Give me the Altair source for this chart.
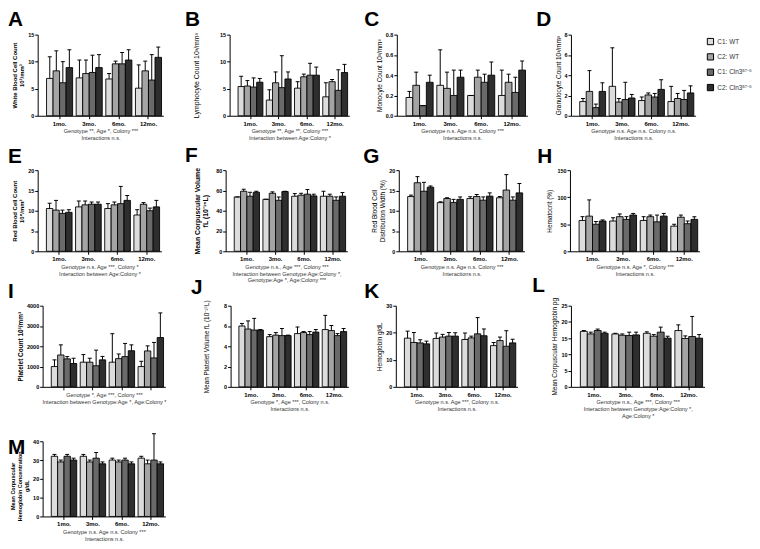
import altair as alt
import pandas as pd

MONTHS = ["1mo.", "3mo.", "6mo.", "12mo."]
GROUPS = ["C1: WT", "C2: WT", "C1: Cln3ᵟ⁷⁻⁸", "C2: Cln3ᵟ⁷⁻⁸"]
COLORS = ["#dcdcdc", "#a4a4a4", "#6a6a6a", "#2e2e2e"]

# means and upper ends of error bars, rows = months, columns = groups
A_mean = [[6.9, 8.3, 6.1, 8.9], [7.0, 7.8, 8.0, 8.9], [6.8, 9.6, 9.6, 10.3], [5.1, 8.3, 6.6, 10.8]]
A_hi = [[10.9, 12.0, 10.0, 12.2], [10.3, 10.3, 11.2, 11.3], [7.8, 10.1, 11.7, 12.2], [9.4, 10.1, 11.3, 12.7]]
B_mean = [[5.4, 5.5, 5.3, 6.2], [2.9, 6.1, 5.2, 6.8], [5.1, 7.2, 7.5, 7.5], [3.5, 6.3, 4.7, 8.0]]
B_hi = [[7.3, 6.5, 7.0, 6.9], [4.8, 8.1, 11.1, 8.1], [6.3, 7.7, 9.7, 9.0], [6.1, 6.7, 8.5, 9.5]]
C_mean = [[0.18, 0.30, 0.10, 0.33], [0.30, 0.27, 0.20, 0.38], [0.20, 0.38, 0.33, 0.40], [0.20, 0.33, 0.23, 0.45]]
C_hi = [[0.24, 0.43, 0.10, 0.40], [0.65, 0.43, 0.45, 0.45], [0.20, 0.45, 0.41, 0.53], [0.45, 0.41, 0.38, 0.54]]
D_mean = [[1.4, 2.4, 0.8, 2.4], [2.9, 1.35, 1.6, 1.75], [1.5, 2.05, 1.85, 2.6], [1.4, 1.7, 1.6, 2.25]]
D_hi = [[1.7, 4.45, 1.15, 3.25], [6.7, 1.7, 3.3, 2.1], [1.85, 2.25, 2.2, 3.55], [2.9, 2.2, 2.5, 2.95]]
E_mean = [[10.55, 10.15, 9.35, 9.6], [10.95, 11.45, 11.6, 11.6], [10.55, 11.45, 11.75, 12.55], [8.95, 11.6, 10.0, 10.95]]
E_hi = [[11.85, 12.55, 10.15, 10.25], [12.4, 12.4, 12.15, 12.15], [11.75, 12.15, 16.0, 13.75], [10.25, 12.0, 10.65, 12.55]]
F_mean = [[53.6, 59.2, 54.3, 58.2], [51.3, 57.2, 50.3, 58.9], [54.3, 55.3, 56.3, 54.6], [54.3, 54.3, 50.3, 54.3]]
F_hi = [[53.6, 61.2, 58.2, 59.2], [51.3, 58.6, 53.6, 59.2], [56.9, 57.2, 60.9, 56.3], [59.2, 56.3, 53.6, 57.9]]
G_mean = [[13.5, 16.9, 14.8, 15.8], [12.0, 13.0, 12.05, 12.8], [13.0, 13.5, 12.6, 13.6], [13.2, 15.1, 12.6, 14.4]]
G_hi = [[13.85, 18.4, 17.0, 16.1], [12.2, 13.2, 12.8, 13.4], [13.45, 14.0, 13.4, 14.4], [13.5, 18.9, 13.4, 16.7]]
H_mean = [[57, 65, 50, 56], [56, 64, 59, 67], [57, 64, 54.5, 65], [46.5, 63, 51, 59]]
H_hi = [[64, 95, 55, 58], [62, 69, 64, 70], [64, 67, 67, 70], [50, 67, 56, 64]]
I_mean = [[1000, 1570, 1380, 1150], [1215, 1215, 1040, 1330], [1215, 1390, 1490, 1780], [1000, 1770, 1425, 2430]]
I_hi = [[1330, 2070, 1490, 1410], [1590, 1410, 1810, 1500], [2620, 1620, 2140, 2070], [1260, 2020, 2190, 3645]]
J_mean = [[6.0, 5.7, 5.6, 5.6], [4.95, 5.1, 5.05, 5.05], [5.25, 5.35, 5.15, 5.4], [5.65, 5.55, 5.05, 5.45]]
J_hi = [[6.25, 6.5, 6.75, 5.65], [5.15, 5.35, 5.75, 5.1], [5.9, 5.45, 5.45, 5.65], [7.05, 6.05, 5.25, 5.75]]
K_mean = [[18.0, 16.4, 16.25, 15.9], [17.9, 18.4, 18.75, 18.75], [17.5, 18.1, 19.6, 18.9], [15.25, 17.1, 15.0, 16.25]]
K_hi = [[20.6, 20.1, 17.4, 16.9], [19.9, 19.4, 20.1, 20.0], [19.9, 18.75, 25.6, 21.4], [16.4, 18.4, 20.75, 17.6]]
L_mean = [[17.1, 16.3, 17.35, 16.5], [16.3, 15.9, 15.8, 16.0], [16.5, 15.6, 16.85, 15.0], [17.35, 14.9, 15.5, 15.0]]
L_hi = [[17.35, 16.85, 17.8, 16.85], [16.5, 16.3, 16.85, 16.85], [16.95, 16.1, 18.4, 15.6], [19.1, 15.7, 21.7, 16.1]]
M_mean = [[32, 29, 32, 30], [32, 29, 31, 28], [30, 29, 30, 28], [31, 28, 30, 28]]
M_hi = [[33, 30, 33, 31], [33, 30, 34, 29], [31, 30, 31, 29], [32, 30, 44, 29]]

Y_TITLES = {
    "A": ["White Blood Cell  Count", "10³/mm³"],
    "B": "Lymphocyte Count 10³/mm³",
    "C": "Monocyte Count 10³/mm³",
    "D": "Granulocyte Count 10³/mm³",
    "E": ["Red Blood Cell  Count", "10⁶/mm³"],
    "F": ["Mean Corpuscular Volume", "fL (10⁻¹⁵L)"],
    "G": ["Red Blood Cell", "Distribution Width (%)"],
    "H": "Hematocrit (%)",
    "I": "Platelet Count 10³/mm³",
    "J": "Mean Platelet Volume fL (10⁻¹⁵L)",
    "K": "Hemoglobin g/dL",
    "L": "Mean Corpuscular Hemoglobin pg",
    "M": ["Mean Corpuscular", "Hemoglobin Concentration", "g/dL"],
}
STATS = {
    "A": ["Genotype **,  Age *, Colony ***", "Interactions n.s."],
    "B": ["Genotype **,  Age **, Colony ***", "Interaction between Age:Colony *"],
    "C": ["Genotype n.s.  Age n.s. Colony ***", "Interactions n.s."],
    "D": ["Genotype n.s.  Age n.s. Colony n.s.", "Interactions n.s."],
    "E": ["Genotype n.s.  Age ***, Colony *", "Interaction between Age:Colony *"],
    "F": ["Genotype n.s.,  Age ***, Colony ***", "Interaction between Genotype:Age:Colony *,", "Genotype:Age *, Age:Colony ***"],
    "G": ["Genotype n.s.  Age n.s. Colony ***", "Interactions n.s."],
    "H": ["Genotype n.s.  Age *, Colony ***", "Interactions n.s."],
    "I": ["Genotype *,  Age ***, Colony ***", "Interaction between Genotype:Age *, Age:Colony *"],
    "J": ["Genotype *,  Age ***, Colony n.s.", "Interactions n.s."],
    "K": ["Genotype n.s.  Age ***, Colony n.s.", "Interactions n.s."],
    "L": ["Genotype n.s.,  Age ***, Colony ***", "Interaction between Genotype:Age:Colony *,", "Age:Colony *"],
    "M": ["Genotype n.s.  Age n.s. Colony ***", "Interactions n.s."],
}

# letter, mean, hi, ymax, step, format, bold title, title size, title padding, x labels,
# shift, width, height, letter dx, letter offset
PANELS = [
    ("A", A_mean, A_hi, 15, 5, "d", True, 6, 3, True, 0, 127, 82, -30, -14),
    ("B", B_mean, B_hi, 15, 5, "d", False, 7, 20, True, 15, 121, 82, -30, -14),
    ("C", C_mean, C_hi, 0.8, 0.2, ".1f", False, 6.5, 3, True, 5, 132, 82, -28, -14),
    ("D", D_mean, D_hi, 8, 2, "d", False, 6.5, 3, True, 2, 126, 82, -33, -14),
    ("E", E_mean, E_hi, 20, 5, "d", True, 6, 3, True, 0, 125, 82, -30, -16),
    ("F", F_mean, F_hi, 80, 20, "d", True, 7, 7, True, 11, 123, 82, -30, -16),
    ("G", G_mean, G_hi, 20, 5, "d", False, 6.5, 3, True, 7, 127, 82, -29, -16),
    ("H", H_mean, H_hi, 150, 50, "d", False, 6.5, 4, True, 1, 131, 82, -32, -16),
    ("I", I_mean, I_hi, 4000, 1000, "d", True, 6.5, 3, False, 5, 124, 82, -30, -15),
    ("J", J_mean, J_hi, 8, 2, "d", False, 6.5, 14, True, 16, 119, 82, -24, -15),
    ("K", K_mean, K_hi, 30, 10, "d", False, 6.5, 3, True, 4, 123, 82, -28, -15),
    ("L", L_mean, L_hi, 25, 5, "d", False, 6.5, 3, True, 2, 135, 82, -37, -15),
    ("M", M_mean, M_hi, 40, 10, "d", True, 5.5, 3, True, 5, 124, 76, -30, -42),
]

LEGEND = alt.Legend(
    title=None, orient="none", legendX=676, legendY=3,
    symbolType="square", symbolSize=40, symbolStrokeColor="black", symbolStrokeWidth=1,
    labelFontSize=6.5, labelColor="#333333", rowPadding=3.5, labelOffset=3,
)


def make_df(mean, hi):
    rows = []
    for i, m in enumerate(MONTHS):
        for j, g in enumerate(GROUPS):
            rows.append({"month": m, "group": g, "mean": mean[i][j], "hi": hi[i][j]})
    return pd.DataFrame(rows)


def panel(letter, mean, hi, ymax, step, fmt, bold, tsize, tpad, xlabels, shift, width, height, ldx, loff):
    df = make_df(mean, hi)
    n = int(round(ymax / step))
    ticks = [round(k * step, 4) for k in range(n + 1)]
    x = alt.X(
        "month:N", sort=MONTHS,
        scale=alt.Scale(range=[shift, shift + width], paddingInner=0.12, paddingOuter=0.18, align=0.83),
        axis=alt.Axis(
            title=STATS[letter], labels=xlabels, labelAngle=0, labelFontSize=6,
            labelFontWeight="bold", labelColor="black", labelPadding=1.5,
            tickSize=3, tickColor="black", domainColor="black", domainWidth=1, tickWidth=1,
            titleFontSize=5.6, titleFontWeight="normal", titleColor="#333333",
            titlePadding=2.5, titleLineHeight=7,
        ),
    )
    xo = alt.XOffset("group:N", sort=GROUPS, scale=alt.Scale(paddingInner=0, paddingOuter=0))
    axis_kw = dict(
        values=ticks, format=fmt, title=Y_TITLES[letter], titleFontSize=tsize,
        titleFontWeight="bold" if bold else "normal", titleColor="black",
        titlePadding=tpad, titleLineHeight=tsize + 1.5,
        labelFontSize=5.5, labelFontWeight="bold", labelColor="black", labelPadding=1,
        tickSize=3, tickColor="black", tickWidth=1, domainColor="black", domainWidth=1,
        grid=False, offset=-shift,
    )
    if letter == "M":
        axis_kw["titleY"] = height / 2 + 7
    yaxis = alt.Axis(**axis_kw)
    yscale = alt.Scale(domain=[0, ymax], nice=False)
    base = alt.Chart(df).encode(x=x, xOffset=xo)
    bars = base.mark_bar(stroke="black", strokeWidth=0.9).encode(
        y=alt.Y("mean:Q", scale=yscale, axis=yaxis),
        color=alt.Color("group:N", sort=GROUPS, scale=alt.Scale(domain=GROUPS, range=COLORS), legend=LEGEND),
    )
    errs = base.mark_rule(color="black", strokeWidth=1).encode(
        y=alt.Y("mean:Q", scale=yscale, axis=yaxis), y2="hi:Q"
    )
    caps = base.mark_tick(color="black", thickness=1, size=4, opacity=1).encode(
        y=alt.Y("hi:Q", scale=yscale, axis=yaxis)
    )
    title = alt.TitleParams(
        letter, anchor="start", frame="group", dx=ldx, offset=loff, baseline="alphabetic",
        fontSize=21, fontWeight="bold", color="black",
    )
    return alt.layer(bars, errs, caps, title=title).properties(width=140, height=height)


charts = [panel(*p) for p in PANELS]

chart = alt.concat(
    *charts, columns=4, spacing={"row": 55, "column": 39}, bounds="flush"
).resolve_scale(
    x="independent", y="independent", xOffset="independent", color="shared"
).resolve_legend(color="shared").properties(
    autosize=alt.AutoSizeParams(type="none"),
    padding={"left": 30, "top": 24, "right": 722, "bottom": 517},
).configure(font="Liberation Sans").configure_view(stroke=None)

chart.save("out.html", embed_options={"renderer": "svg", "actions": False})
